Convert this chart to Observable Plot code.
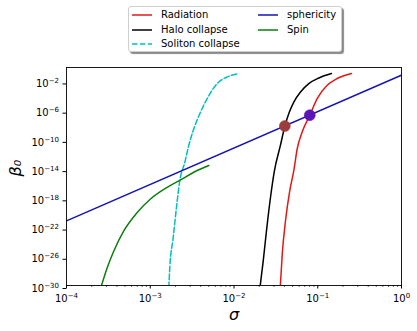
<!DOCTYPE html>
<html><head><meta charset="utf-8">
<script src="https://cdn.jsdelivr.net/npm/d3@7"></script>
<script src="https://cdn.jsdelivr.net/npm/@observablehq/plot@0.6"></script>
<style>
body{margin:0;background:#fff;font-family:"DejaVu Sans",sans-serif;}
#wrap{position:relative;width:417px;height:331px;overflow:hidden}
#legend{position:absolute;left:128px;top:6px;width:212px;height:44px;border:1px solid #cfcfcf;border-radius:3px;background:#fff;box-shadow:2px 2px 1px #8a8a8a;font-size:10px;color:#000}
.item{position:absolute;height:12px;line-height:12px;white-space:nowrap}
.item svg{position:absolute;left:0;top:0}
.item span{position:absolute;left:30px;top:0}
</style></head><body><div id="wrap"><div id="chart"></div><div id="legend"></div></div>
<script>
// Series data (log10 of sigma and beta)
const radiationLogSigma = [-1.448,-1.424,-1.385,-1.334,-1.286,-1.245,-1.186,-1.095,-1.007,-0.887,-0.768,-0.597];
const radiationLogBeta  = [-30.3,-25.73,-21.14,-17.01,-14.28,-11.28,-9.0,-6.7,-4.42,-2.59,-1.67,-0.98];
const haloLogSigma = [-1.690,-1.651,-1.612,-1.564,-1.517,-1.446,-1.393,-1.340,-1.286,-1.206,-1.107,-0.987,-0.836];
const haloLogBeta  = [-30.3,-26.63,-22.5,-17.92,-14.28,-10.83,-8.2,-6.3,-4.89,-3.51,-2.36,-1.59,-0.98];
const solitonLogSigma = [-2.778,-2.767,-2.726,-2.687,-2.647,-2.587,-2.540,-2.480,-2.400,-2.320,-2.201,-2.081,-1.943];
const solitonLogBeta  = [-30.3,-27.58,-23.45,-19.32,-15.64,-13.13,-10.83,-8.55,-6.27,-4.42,-2.36,-1.45,-0.98];
const sphericityLogSigma = [-4, 0];
const sphericityLogBeta  = [-21.16, -1.21];
const spinLogSigma = [-3.590,-3.514,-3.435,-3.316,-3.156,-2.997,-2.798,-2.639,-2.480,-2.301];
const spinLogBeta  = [-30.3,-27.58,-25.28,-22.53,-20.01,-18.16,-16.57,-15.55,-14.5,-13.58];
const dotLogSigma = [-1.393, -1.095];
const dotLogBeta  = [-8.17, -6.68];
const dotColors = ["#9e3c3c", "#5c14b4"];

const seriesNames  = ["Radiation","Halo collapse","Soliton collapse","sphericity","Spin"];
const seriesColors = ["#e01818","#000000","#00bfbf","#1414b4","#0e7d0e"];
const seriesDashed = [false,false,true,false,false];
const seriesLS = [radiationLogSigma, haloLogSigma, solitonLogSigma, sphericityLogSigma, spinLogSigma];
const seriesLB = [radiationLogBeta, haloLogBeta, solitonLogBeta, sphericityLogBeta, spinLogBeta];

const xMajor = [1e-4,1e-3,1e-2,1e-1,1];
const xMinorMult = [2,3,4,5,6,7,8,9];
const yTicks = [1e-2,1e-6,1e-10,1e-14,1e-18,1e-22,1e-26,1e-30];

const fmt = d => "10^" + String(Math.round(Math.log10(d))).replace("-", "\u2212");

const xMinor = [];
xMajor.slice(0,-1).forEach(m => xMinorMult.forEach(k => xMinor.push(m*k)));

const lineMarks = seriesNames.map((name, i) => {
  const rows = seriesLS[i].map((s, j) => ({sigma: 10 ** s, beta: 10 ** seriesLB[i][j]}));
  return Plot.line(rows, {x: "sigma", y: "beta", stroke: seriesColors[i], strokeWidth: 1.5,
    strokeDasharray: seriesDashed[i] ? "5.5,2.4" : null, curve: "monotone-x", clip: true});
});
const dots = dotLogSigma.map((s, i) => ({sigma: 10 ** s, beta: 10 ** dotLogBeta[i], c: dotColors[i]}));

const chart = Plot.plot({
  width: 417, height: 331,
  marginLeft: 66, marginRight: 16, marginTop: 67, marginBottom: 46,
  x: {type: "log", domain: [1e-4, 1]},
  y: {type: "log", domain: [1e-30, 10 ** -0.16]},
  style: {fontFamily: "DejaVu Sans", fontSize: "10px", color: "#000", background: "#fff"},
  marks: [
    ...lineMarks,
    Plot.dot(dots, {x: "sigma", y: "beta", r: 5.5, fill: "c", stroke: "c", strokeWidth: 0.5}),
    Plot.frame({stroke: "#000", strokeWidth: 0.9}),
    Plot.axisX({ticks: xMajor, tickFormat: fmt, tickSize: 3.5, tickPadding: 6, label: null}),
    Plot.axisX({ticks: xMinor, tickFormat: () => "", tickSize: 2, strokeWidth: 0.6, label: null}),
    Plot.axisY({ticks: yTicks, tickFormat: fmt, tickSize: 3.5, tickPadding: 4, dy: 3, label: null}),
    Plot.text(["σ"], {frameAnchor: "bottom", dy: 34, text: d => d, fontSize: 16, fontStyle: "italic"}),
    Plot.text(["β₀"], {frameAnchor: "left", dx: -51, rotate: -90, text: d => d, fontSize: 16, fontStyle: "italic"})
  ]
});
document.getElementById("chart").appendChild(chart);

// Render "10^n" tick labels with a real superscript
d3.select(chart).selectAll("text").each(function() {
  const t = this.textContent;
  if (!/^10\^/.test(t)) return;
  const [base, exp] = t.split("^");
  const sel = d3.select(this);
  sel.text(null);
  sel.append("tspan").text(base);
  sel.append("tspan").attr("dy", "-4").attr("font-size", "7px").text(exp);
});

// Legend (two columns)
const legend = document.getElementById("legend");
const cols = [[0,1,2],[3,4]];
cols.forEach((col, ci) => col.forEach((si, ri) => {
  const it = document.createElement("div");
  it.className = "item";
  it.style.left = (ci === 0 ? 2 : 128) + "px";
  it.style.top = (2 + ri * 14.6) + "px";
  it.innerHTML = `<svg width="22" height="12"><line x1="1" x2="21" y1="6" y2="6" stroke="${seriesColors[si]}" stroke-width="1.5" ${seriesDashed[si] ? 'stroke-dasharray="5.5,2.4"' : ''}/></svg><span>${seriesNames[si]}</span>`;
  legend.appendChild(it);
}));
</script></body></html>
